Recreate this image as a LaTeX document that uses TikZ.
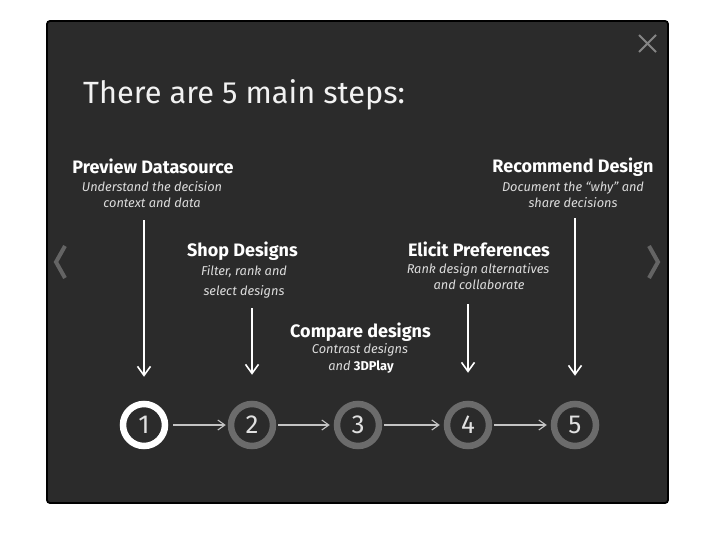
\documentclass[tikz,border=0pt]{standalone}
\usepackage{fontspec}
\setmainfont{Fira Sans}
\usetikzlibrary{arrows.meta}
\definecolor{panel}{HTML}{2B2B2B}
\definecolor{ringgrey}{HTML}{6B6B6B}
\definecolor{subgrey}{HTML}{DCDCDC}
\definecolor{navgrey}{HTML}{646464}
\definecolor{closegrey}{HTML}{858585}
\definecolor{linegrey}{HTML}{C4C4C4}
\begin{document}
\begin{tikzpicture}[x=1pt,y=-1pt,
  heading/.style={anchor=base, text=white, font=\fontsize{18}{22}\selectfont\bfseries, inner sep=0pt},
  desc/.style={anchor=base, text=subgrey, font=\fontsize{12.8}{16}\selectfont\itshape, inner sep=0pt},
  ring/.style={circle, draw=ringgrey, line width=6.5pt, minimum size=42pt, inner sep=0pt, text=white!88!black, font=\fontsize{26}{30}\selectfont},
  activering/.style={ring, draw=white},
  downarrow/.style={draw=white, line width=2pt, -{Straight Barb[length=9pt,width=13pt,line width=1.6pt]}},
  flowarrow/.style={draw=linegrey, line width=1.1pt, -{Straight Barb[length=7pt,width=10pt]}},
  nav/.style={draw=navgrey, line width=4pt, line cap=butt, line join=miter},
]
\useasboundingbox (0,0) rectangle (722,540);
\fill[white] (0,0) rectangle (722,540);
\draw[fill=panel, draw=black, line width=1.8pt, rounded corners=3pt] (47,21) rectangle (668,503);

% title
\node[anchor=base west, text=white!95!black, font=\fontsize{30.7}{36}\selectfont, inner sep=0pt] (title) at (83,104) {There are 5 main steps:};

% close cross
\draw[closegrey, line width=2pt] (639,35) -- (656,52) (656,35) -- (639,52);

% navigation chevrons
\draw[nav] (65,246) -- (56,262) -- (65,278);
\draw[nav] (649,246) -- (658,262) -- (649,278);

% step headings and descriptions
\node[heading] (h1) at (153,174) {Preview Datasource};
\node[desc] (d1a) at (152,191) {Understand the decision};
\node[desc] (d1b) at (152,207) {context and data};

\node[heading] (h2) at (242.5,256) {Shop Designs};
\node[desc] (d2a) at (244,275) {Filter, rank and};
\node[desc] (d2b) at (244,295) {select designs};

\node[heading] (h3) at (360.5,337) {Compare designs};
\node[desc] (d3a) at (360,353) {Contrast designs};
\node[desc] (d3b) at (361,370) {and \textup{\bfseries\color{white}3DPlay}};

\node[heading] (h4) at (479,256) {Elicit Preferences};
\node[desc] (d4a) at (478,273) {Rank design alternatives};
\node[desc] (d4b) at (479,289) {and collaborate};

\node[heading] (h5) at (573,173) {Recommend Design};
\node[desc] (d5a) at (573,191) {Document the “why” and};
\node[desc] (d5b) at (573,207) {share decisions};

% step circles
\node[activering] (c1) at (144,425) {1};
\node[ring] (c2) at (252,425) {2};
\node[ring] (c3) at (358,425) {3};
\node[ring] (c4) at (468,425) {4};
\node[ring] (c5) at (575,425) {5};

% arrow starts
\coordinate (s1) at (144,220);
\coordinate (s2) at (252,308);
\coordinate (s4) at (468,304);
\coordinate (s5) at (575,218);

\draw[downarrow, shorten >=24pt] (s1) -- (c1);
\draw[downarrow, shorten >=26pt] (s2) -- (c2);
\draw[downarrow, shorten >=28pt] (s4) -- (c4);
\draw[downarrow, shorten >=25pt] (s5) -- (c5);

\draw[flowarrow, shorten <=5pt, shorten >=2pt] (c1) -- (c2);
\draw[flowarrow, shorten <=2pt, shorten >=4pt] (c2) -- (c3);
\draw[flowarrow, shorten <=2pt, shorten >=4pt] (c3) -- (c4);
\draw[flowarrow, shorten <=2pt, shorten >=4pt] (c4) -- (c5);
\end{tikzpicture}
\end{document}
